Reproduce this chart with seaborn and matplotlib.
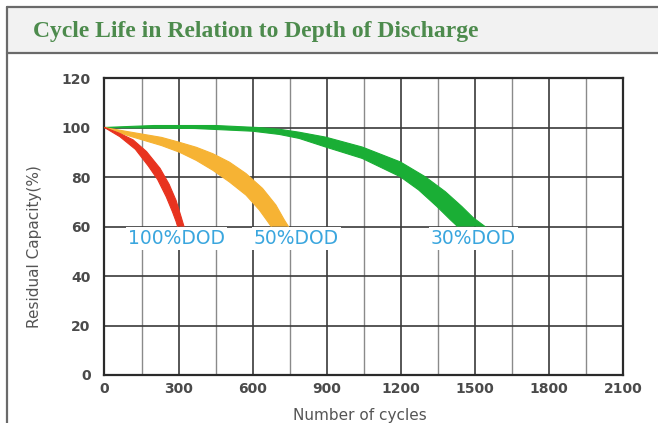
import matplotlib
matplotlib.use("Agg")
import matplotlib.pyplot as plt
import seaborn as sns
from matplotlib.patches import Rectangle
from matplotlib.lines import Line2D
from matplotlib.ticker import MultipleLocator

# ---------------- data ----------------
title = "Cycle Life in Relation to Depth of Discharge"
x_label = "Number of cycles"
y_label = "Residual Capacity(%)"
x_ticks = [0, 300, 600, 900, 1200, 1500, 1800, 2100]
y_ticks = [0, 20, 40, 60, 80, 100, 120]

red_inner_cycles = [0, 62, 125, 177, 215, 250, 275, 290, 296]
red_inner_cap = [100, 96.3, 91.2, 84.5, 79.0, 72.0, 66.0, 62.0, 60]
red_outer_cycles = [0, 62, 116, 170, 225, 262, 290, 310, 322]
red_outer_cap = [100, 97.6, 95.0, 90.3, 83.5, 77.0, 70.5, 64.0, 60]

yellow_lower_cycles = [0, 96, 231, 304, 372, 439, 506, 573, 627, 661, 675]
yellow_lower_cap = [100, 96.7, 92.7, 90.0, 86.7, 82.7, 78.0, 72.7, 66.7, 62.0, 60]
yellow_upper_cycles = [0, 96, 231, 304, 372, 439, 506, 573, 640, 694, 728, 745]
yellow_upper_cap = [100, 98.3, 96.0, 94.0, 92.0, 89.4, 86.0, 81.4, 75.4, 68.7, 62.7, 60]

green_upper_cycles = [0, 96, 200, 450, 620, 708, 788, 896, 1044, 1198, 1299, 1380, 1447, 1494, 1541]
green_upper_cap = [100, 100.4, 100.8, 100.8, 100.0, 99.3, 98.1, 96.1, 92.1, 86.1, 80.1, 74.1, 68.1, 63.5, 60]
green_lower_cycles = [0, 365, 600, 708, 788, 896, 1044, 1198, 1272, 1346, 1400, 1430]
green_lower_cap = [100, 99.6, 98.5, 97.2, 95.6, 92.1, 87.5, 80.1, 74.8, 68.1, 62.8, 60]

dod_labels = ["100%DOD", "50%DOD", "30%DOD"]
dod_label_x = [290, 777, 1494]
dod_label_y = [55, 55, 55]

red_color = "#e8331f"
yellow_color = "#f6b334"
green_color = "#1aae35"
label_color = "#3aa6de"

# ---------------- figure ----------------
sns.set_style("white")
plt.rcParams["font.family"] = ["DejaVu Sans"]

W, H = 658, 423
fig = plt.figure(figsize=(W / 100, H / 100), dpi=100)

# title panel
fig.patches.append(Rectangle((7 / W, 1 - 53 / H), 1 - 7 / W, 46 / H,
                             transform=fig.transFigure, facecolor="#f2f2f2",
                             edgecolor="none", zorder=0))
fig.lines.append(Line2D([7 / W, 1], [1 - 7 / H, 1 - 7 / H], transform=fig.transFigure,
                        color="#6a6a6a", lw=1.6))
fig.lines.append(Line2D([7 / W, 1], [1 - 53 / H, 1 - 53 / H], transform=fig.transFigure,
                        color="#6a6a6a", lw=1.6))
fig.lines.append(Line2D([7 / W, 7 / W], [0, 1 - 7 / H], transform=fig.transFigure,
                        color="#6a6a6a", lw=1.6))
fig.text(33 / W, 1 - 32 / H, title, family="Liberation Serif", weight="bold",
         fontsize=17, color="#4d8b4d", va="center", ha="left")

ax = fig.add_axes([104.5 / W, 1 - 375 / H, (623 - 104.5) / W, (375 - 78) / H])


def band(xa, ya, xb, yb, color):
    xs = list(xa) + list(xb)[::-1]
    ys = list(ya) + list(yb)[::-1]
    ax.fill(xs, ys, color=color, lw=0, zorder=3)
    sns.lineplot(x=xa, y=ya, ax=ax, color=color, lw=0.8, sort=False,
                 estimator=None, zorder=3)
    sns.lineplot(x=xb, y=yb, ax=ax, color=color, lw=0.8, sort=False,
                 estimator=None, zorder=3)


band(green_lower_cycles, green_lower_cap, green_upper_cycles, green_upper_cap, green_color)
band(yellow_lower_cycles, yellow_lower_cap, yellow_upper_cycles, yellow_upper_cap, yellow_color)
band(red_inner_cycles, red_inner_cap, red_outer_cycles, red_outer_cap, red_color)

for t, x, y in zip(dod_labels, dod_label_x, dod_label_y):
    ax.text(x, y, t, color=label_color, fontsize=13.5, ha="center", va="center",
            zorder=4, bbox=dict(facecolor="white", edgecolor="none", pad=1.5))

ax.set_xlim(0, 2100)
ax.set_ylim(0, 120)
ax.set_xticks(x_ticks)
ax.set_yticks(y_ticks)
ax.xaxis.set_minor_locator(MultipleLocator(150))
ax.set_axisbelow(True)
ax.grid(which="major", axis="both", color="#3a3a3a", lw=1.2, zorder=1)
ax.grid(which="minor", axis="x", color="#8a8a8a", lw=1.0, zorder=1)
ax.tick_params(which="both", length=0)
ax.tick_params(axis="y", pad=10)
ax.tick_params(axis="x", pad=5)
for lab in ax.get_xticklabels() + ax.get_yticklabels():
    lab.set_fontweight("bold")
    lab.set_fontsize(10)
    lab.set_color("#4a4a4a")
for s in ax.spines.values():
    s.set_color("#2a2a2a")
    s.set_linewidth(1.6)

ax.set_xlabel(x_label, fontsize=11, color="#555555")
ax.set_ylabel(y_label, fontsize=11, color="#555555")
ax.xaxis.set_label_coords(0.493, -0.111)
ax.yaxis.set_label_coords(-0.1205, 0.431)

fig.savefig("out.png", dpi=100)
